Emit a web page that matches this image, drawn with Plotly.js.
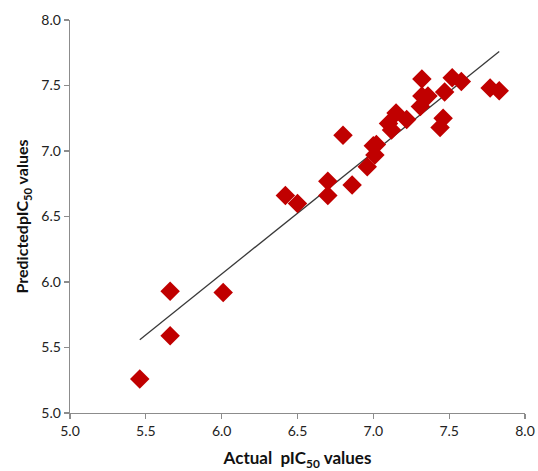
<!DOCTYPE html>
<html>
<head>
<meta charset="utf-8">
<script src="https://cdn.plot.ly/plotly-3.0.1.min.js"></script>
<style>html,body{margin:0;padding:0;background:#fff;}#chart{width:538px;height:471px;}</style>
</head>
<body>
<div id="chart"></div>
<script>
const actual = [5.46, 5.66, 5.66, 6.01, 6.42, 6.50, 6.70, 6.70, 6.80, 6.86, 6.96, 7.00, 7.01, 7.02, 7.10, 7.12, 7.15, 7.22, 7.31, 7.32, 7.32, 7.36, 7.44, 7.46, 7.47, 7.52, 7.58, 7.77, 7.83];
const predicted = [5.26, 5.93, 5.59, 5.92, 6.66, 6.60, 6.77, 6.66, 7.12, 6.74, 6.88, 7.04, 6.97, 7.05, 7.21, 7.16, 7.29, 7.24, 7.34, 7.55, 7.42, 7.42, 7.18, 7.25, 7.45, 7.56, 7.53, 7.48, 7.46];
const trendX = [5.46, 7.83];
const trendY = [5.56, 7.76];
const xTicks = [5.0, 5.5, 6.0, 6.5, 7.0, 7.5, 8.0];
const yTicks = [5.0, 5.5, 6.0, 6.5, 7.0, 7.5, 8.0];

const font = 'Lato, "Open Sans", sans-serif';
const data = [
  {x: trendX, y: trendY, mode: 'lines', type: 'scatter', line: {color: '#3a3a3a', width: 1.3}, hoverinfo: 'skip'},
  {x: actual, y: predicted, mode: 'markers', type: 'scatter',
   marker: {symbol: 'diamond', size: 15, color: '#C00000', line: {width: 0}}}
];
const axisCommon = {
  range: [5, 8], showgrid: false, zeroline: false, showline: true,
  linecolor: '#8c8c8c', linewidth: 1.3, ticks: 'outside', ticklen: 5, tickcolor: '#8c8c8c',
  tickwidth: 1.3, tickfont: {family: font, size: 14, color: '#222'}, tickformat: '.1f'
};
const layout = {
  width: 538, height: 471, showlegend: false,
  paper_bgcolor: '#fff', plot_bgcolor: '#fff',
  margin: {l: 70, r: 13, t: 20, b: 58},
  xaxis: Object.assign({}, axisCommon, {tickvals: xTicks,
    title: {text: '<b>Actual  pIC<sub>50</sub> values</b>', font: {family: font, size: 17, color: '#111'}, standoff: 17}}),
  yaxis: Object.assign({}, axisCommon, {tickvals: yTicks,
    title: {text: '<b>PredictedpIC<sub>50</sub> values</b>', font: {family: font, size: 16, color: '#111'}, standoff: 8}})
};
Plotly.newPlot('chart', data, layout, {displayModeBar: false, staticPlot: true});
</script>
</body>
</html>
